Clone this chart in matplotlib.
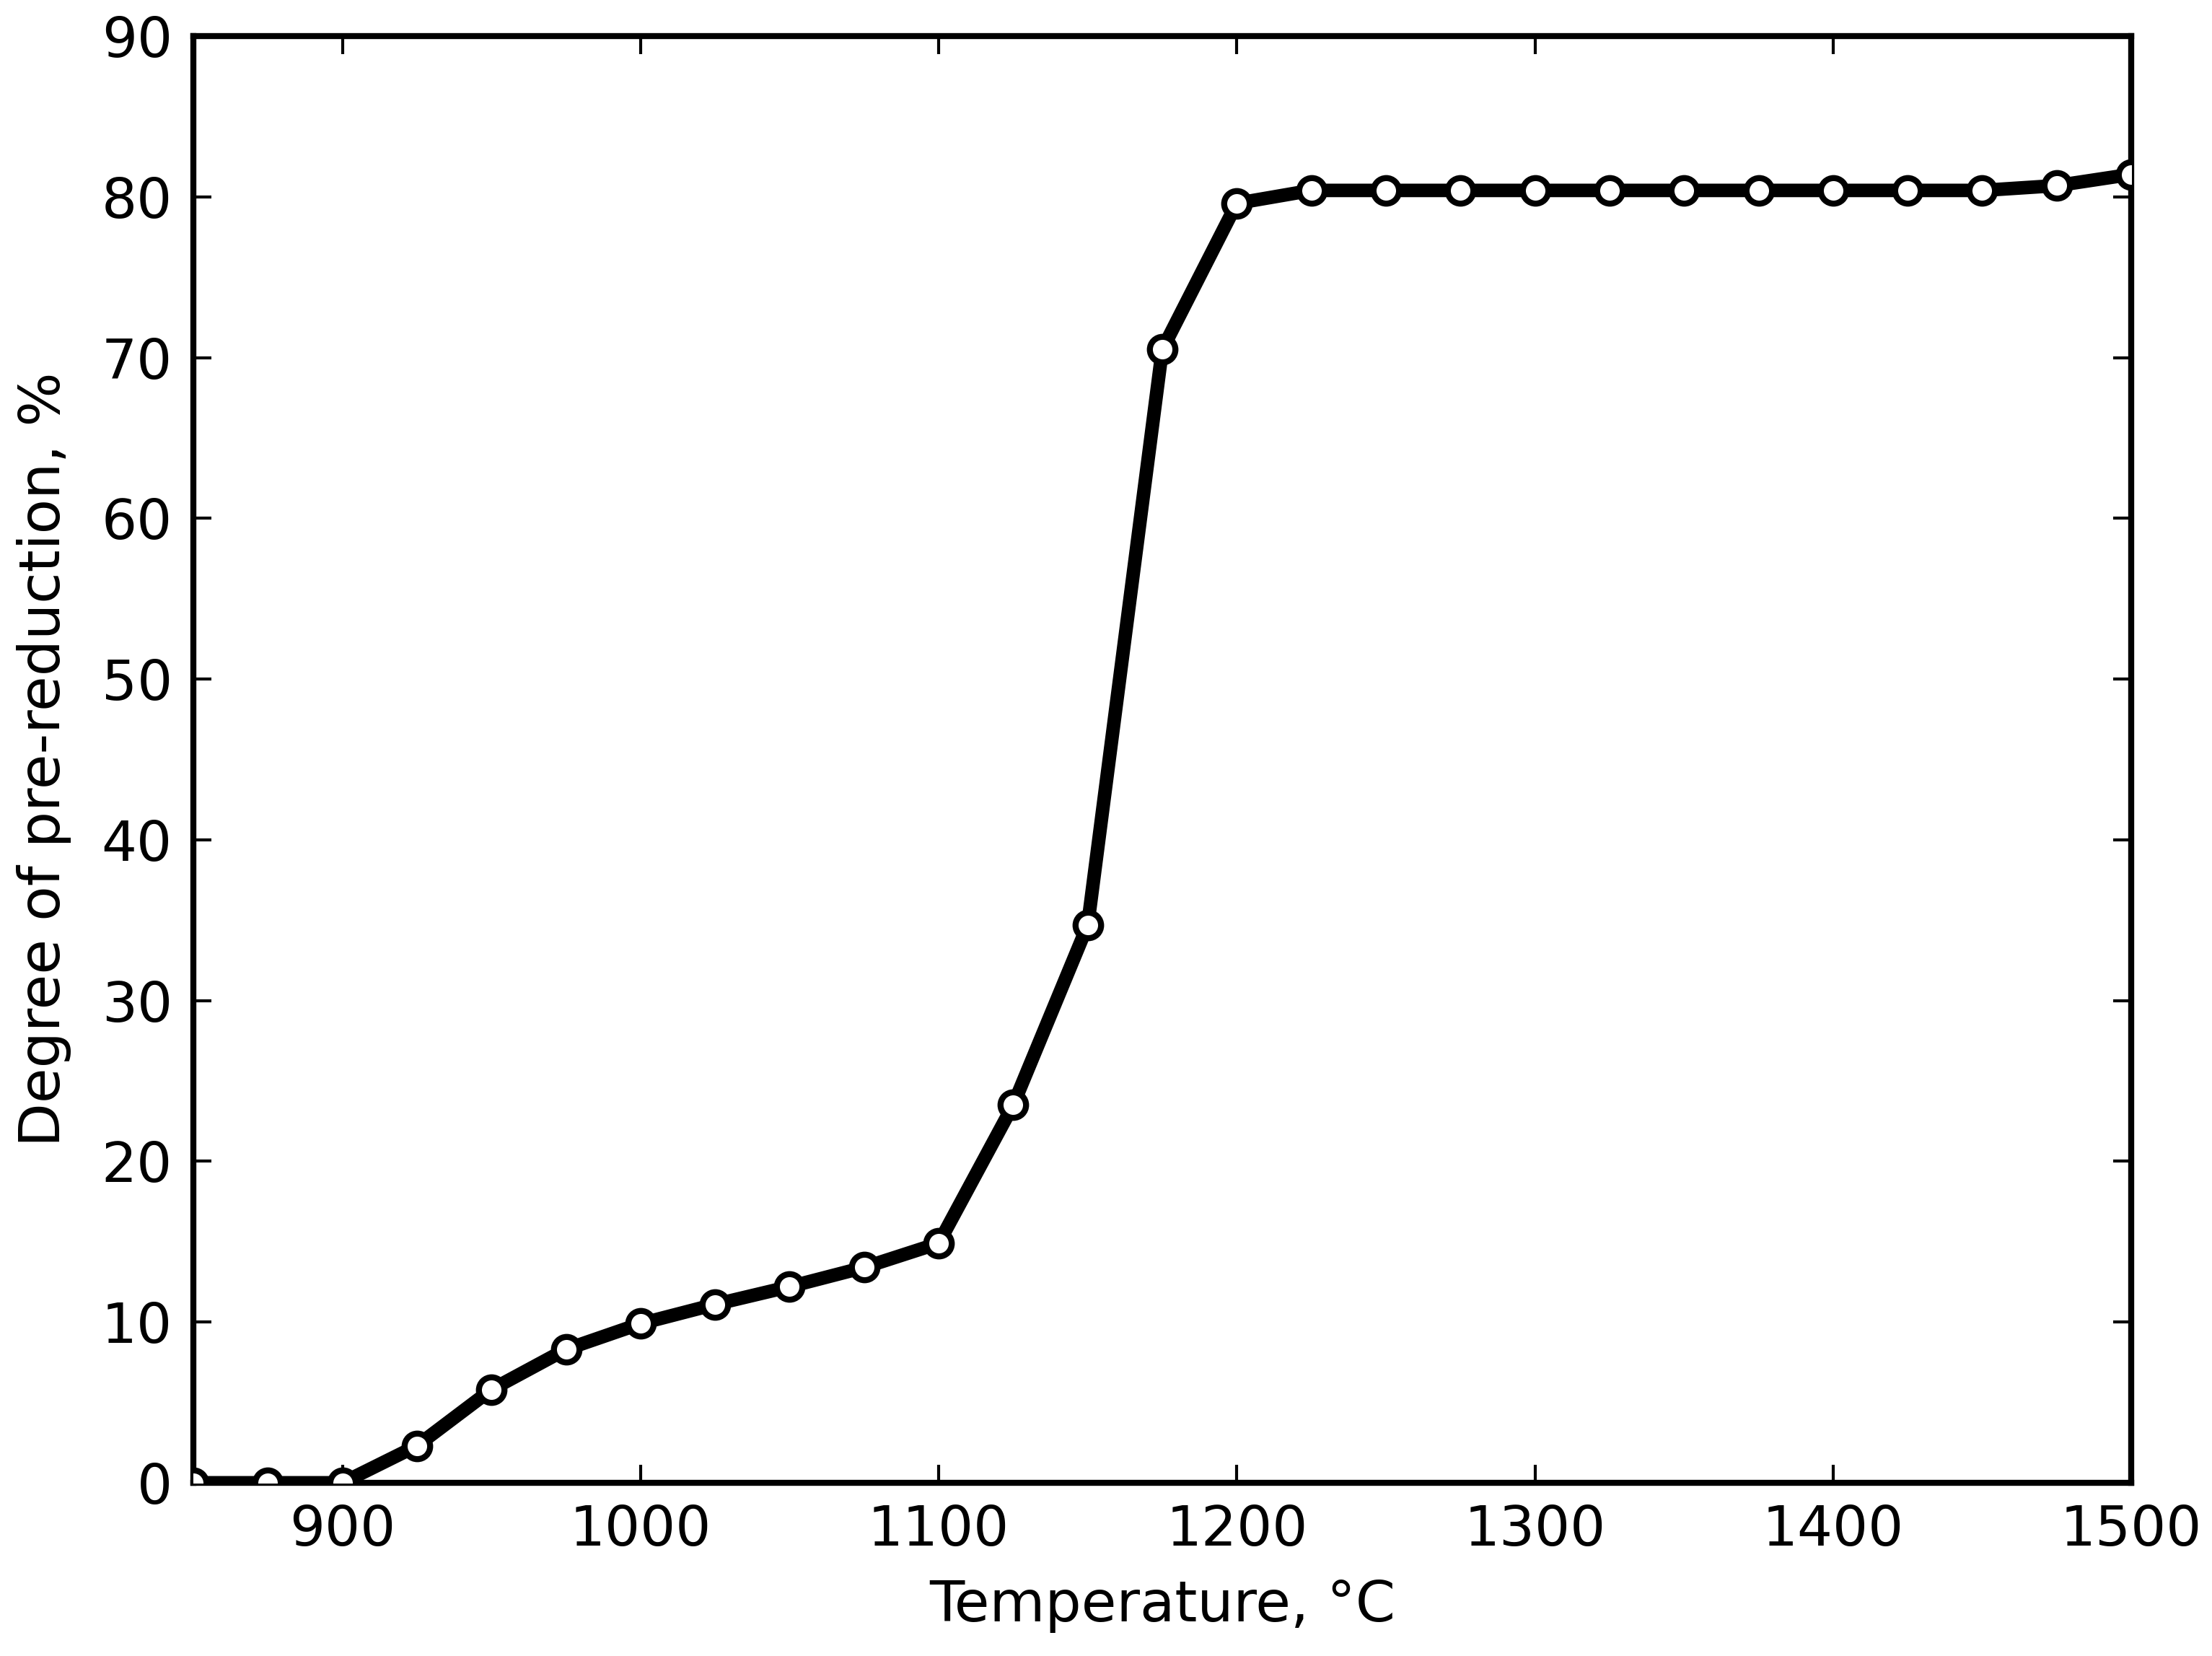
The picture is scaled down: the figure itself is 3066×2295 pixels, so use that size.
import matplotlib
matplotlib.use("Agg")
import matplotlib.pyplot as plt

# temperatures (C) and degree of pre-reduction (%)
temperature = [850, 875, 900, 925, 950, 975, 1000, 1025, 1050, 1075, 1100,
               1125, 1150, 1175, 1200, 1225, 1250, 1275, 1300, 1325, 1350,
               1375, 1400, 1425, 1450, 1475, 1500]
pre_reduction = [0.0, 0.0, 0.0, 2.3, 5.8, 8.3, 9.9, 11.1, 12.2, 13.4, 14.9,
                 23.5, 34.7, 70.5, 79.6, 80.4, 80.4, 80.4, 80.4, 80.4, 80.4,
                 80.4, 80.4, 80.4, 80.4, 80.7, 81.4]

x_ticks = [900, 1000, 1100, 1200, 1300, 1400, 1500]
y_ticks = [0, 10, 20, 30, 40, 50, 60, 70, 80, 90]

plt.rcParams["font.family"] = "DejaVu Sans"

fig = plt.figure(figsize=(10.22, 7.65), dpi=300)
ax = fig.add_axes([0.0874, 0.1046, 0.8761, 0.8736])

ax.plot(temperature, pre_reduction, color="black", linewidth=4.5,
        marker="o", markersize=8.5, markerfacecolor="white",
        markeredgecolor="black", markeredgewidth=2, zorder=3)

ax.set_xlim(850, 1500)
ax.set_ylim(0, 90)
ax.set_xticks(x_ticks)
ax.set_yticks(y_ticks)

ax.tick_params(direction="in", top=True, right=True, length=6, width=1,
               labelsize=18.5, pad=7)
for s in ax.spines.values():
    s.set_linewidth(2)

ax.set_xlabel("Temperature, \u00b0C", fontsize=19, labelpad=7)
ax.set_ylabel("Degree of pre-reduction, %", fontsize=19, labelpad=10)

fig.savefig("out.png", dpi=300)
